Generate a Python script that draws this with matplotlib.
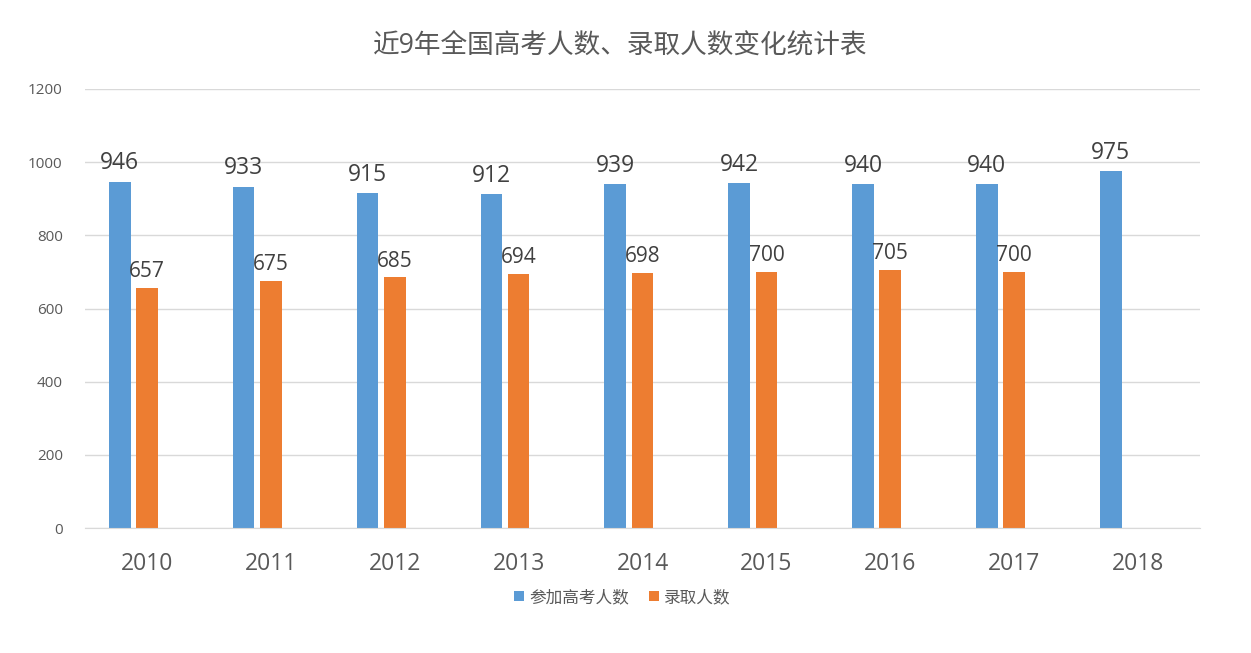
import numpy as np
import matplotlib.pyplot as plt

plt.rcParams['font.family'] = ['Open Sans', 'Noto Sans CJK SC', 'DejaVu Sans']

years = ['2010', '2011', '2012', '2013', '2014', '2015', '2016', '2017', '2018']
applicants = [946, 933, 915, 912, 939, 942, 940, 940, 975]
admitted = [657, 675, 685, 694, 698, 700, 705, 700, None]

blue = '#5B9BD5'
orange = '#ED7D31'
grey = '#595959'

fig = plt.figure(figsize=(12.51, 6.53), dpi=100)
ax = fig.add_axes([85 / 1251, 1 - 528 / 653, 1115 / 1251, 439 / 653])

x = np.arange(len(years))
w = 0.175
off = 0.22

ax.bar(x - off, applicants, width=w, color=blue, label='参加高考人数')
xa = [xi for xi, v in zip(x, admitted) if v is not None]
va = [v for v in admitted if v is not None]
ax.bar(np.array(xa), va, width=w, color=orange, label='录取人数')

for xi, v in zip(x, applicants):
    ax.text(xi - off, v + 18, str(v), ha='center', va='bottom', fontsize=16.5, color='#404040')
for xi, v in zip(xa, va):
    ax.text(xi, v + 16, str(v), ha='center', va='bottom', fontsize=15, color='#404040')

ax.set_xlim(-0.5, len(years) - 0.5)
ax.set_ylim(0, 1200)
ax.set_yticks(range(0, 1201, 200))
ax.set_xticks(x)
ax.set_xticklabels(years, fontsize=16.5, color=grey)
ax.tick_params(axis='y', labelsize=11, colors=grey, length=0, pad=16)
ax.tick_params(axis='x', length=0, pad=17)
ax.yaxis.grid(True, color='#D9D9D9', linewidth=1)
ax.set_axisbelow(True)
for s in ['top', 'right', 'left']:
    ax.spines[s].set_visible(False)
ax.spines['bottom'].set_color('#D9D9D9')

fig.text(620 / 1251, 1 - 47 / 653, '近9年全国高考人数、录取人数变化统计表', ha='center', va='center',
         fontsize=19.2, color=grey)

fig.legend(loc='center', bbox_to_anchor=(622 / 1251, 1 - 598 / 653), ncol=2, frameon=False,
           fontsize=12, handlelength=0.6, handleheight=0.6, handletextpad=0.3, columnspacing=1.2,
           labelcolor=grey)

fig.savefig('out.png', dpi=100)
